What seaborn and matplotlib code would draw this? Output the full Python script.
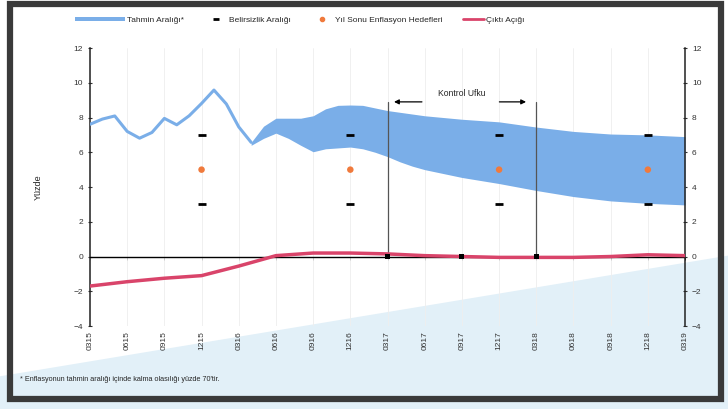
import numpy as np
import pandas as pd
import seaborn as sns
import matplotlib.pyplot as plt
from matplotlib.patches import Patch, Rectangle, Polygon
from matplotlib.lines import Line2D
from matplotlib.legend_handler import HandlerPatch

# x axis: month index, 0 = March 2015
quarter_labels = ["0315", "0615", "0915", "1215", "0316", "0616", "0916", "1216",
                  "0317", "0617", "0917", "1217", "0318", "0618", "0918", "1218", "0319"]
quarter_months = list(range(0, 49, 3))

# realised inflation (monthly)
infl_months = list(range(0, 14))
infl_values = [7.61, 7.91, 8.09, 7.20, 6.81, 7.14, 7.95, 7.58, 8.10, 8.81, 9.58, 8.78, 7.46, 6.57]

# forecast range
band_months = [13, 14, 15, 16, 17, 18, 19, 20, 21, 22, 23, 24, 25, 26, 27, 30, 33, 36, 39, 42, 45, 48]
band_lower = [6.4, 6.8, 7.1, 6.8, 6.4, 6.03, 6.2, 6.25, 6.3, 6.2, 6.0, 5.75, 5.45, 5.2, 5.0,
              4.55, 4.2, 3.8, 3.45, 3.2, 3.06, 2.97]
band_upper = [6.57, 7.5, 7.96, 7.96, 7.96, 8.1, 8.5, 8.7, 8.72, 8.7, 8.55, 8.4, 8.3, 8.2, 8.1,
              7.9, 7.75, 7.45, 7.2, 7.05, 7.0, 6.9]

# output gap (quarterly)
gap_values = [-1.7, -1.45, -1.25, -1.1, -0.55, 0.05, 0.2, 0.2, 0.15, 0.05, 0.0, -0.05,
              -0.05, -0.05, 0.0, 0.1, 0.05]

# year end targets and uncertainty band
target_months = [9, 21, 33, 45]
target_values = [5, 5, 5, 5]
unc_low = [3, 3, 3, 3]
unc_high = [7, 7, 7, 7]

# control horizon
horizon_start, horizon_end = 24, 36
horizon_marks = [24, 30, 36]

blue = "#7aaee8"
red = "#d9446a"
orange = "#f07a3c"

sns.set_style("white")
plt.rcParams["font.family"] = ["Liberation Sans", "DejaVu Sans"]

fig = plt.figure(figsize=(7.28, 4.09), dpi=100)

# scan background decoration + frame
fig.patches.append(Polygon([[0, 0], [0, 0.08], [1, 0.375], [1, 0]], closed=True,
                           transform=fig.transFigure, facecolor="#e2f0f8", edgecolor="none", zorder=0))
fig.patches.append(Rectangle((0.014, 0.025), 0.976, 0.965, transform=fig.transFigure,
                             fill=False, edgecolor="#3a3a3a", linewidth=4.5, zorder=5))

ax = fig.add_axes([0.1236, 0.2029, 0.8174, 0.6797])
ax.set_zorder(1)
ax.patch.set_visible(False)

ax.fill_between(band_months, band_lower, band_upper, color=blue, linewidth=0, zorder=2)

infl = pd.DataFrame({"month": infl_months, "value": infl_values})
sns.lineplot(data=infl, x="month", y="value", color=blue, linewidth=2.2, ax=ax, zorder=3)

gap = pd.DataFrame({"month": quarter_months, "value": gap_values})
sns.lineplot(data=gap, x="month", y="value", color=red, linewidth=2.5, ax=ax, zorder=4)

ax.axhline(0, color="black", linewidth=1.0, zorder=3)

for yv in (unc_low, unc_high):
    sns.scatterplot(x=target_months, y=yv, marker="_", s=30, color="black", linewidth=2, ax=ax, zorder=5)
sns.scatterplot(x=target_months, y=target_values, marker="o", s=22, color=orange, edgecolor="none", ax=ax, zorder=5)

sns.scatterplot(x=horizon_marks, y=[0] * len(horizon_marks), marker="s", s=14, color="black",
                edgecolor="none", ax=ax, zorder=6)

# control horizon lines and arrows
for xm in (horizon_start, horizon_end):
    ax.plot([xm, xm], [0, 8.9], color="#555555", linewidth=0.9, zorder=3)
ax.annotate("", xy=(horizon_start + 0.3, 8.9), xytext=(horizon_start + 3.0, 8.9),
            arrowprops=dict(arrowstyle="-|>", color="black", lw=0.9, mutation_scale=7))
ax.annotate("", xy=(horizon_end - 0.6, 8.9), xytext=(horizon_end - 3.2, 8.9),
            arrowprops=dict(arrowstyle="-|>", color="black", lw=0.9, mutation_scale=7))
ax.text((horizon_start + horizon_end) / 2, 9.4, "Kontrol Ufku", ha="center", va="center", fontsize=6.2)

# axes
ax.set_xlim(0, 48)
ax.set_ylim(-4, 12)
ax.set_yticks(range(-4, 13, 2))
ax.set_xticks(quarter_months)
ax.set_xticklabels(quarter_labels, rotation=90, fontsize=6, color="#333333")
ax.tick_params(axis="x", length=0, pad=4)
ax.tick_params(axis="y", labelsize=6, length=3, width=0.8, direction="inout",
               left=True, right=True, labelleft=True, labelright=True, colors="#333333")
ax.xaxis.grid(True, color="#eeeeee", linewidth=0.6)
ax.set_xlabel("")
ax.set_ylabel("Yüzde", fontsize=6.5, labelpad=22)
for s in ("top", "bottom"):
    ax.spines[s].set_visible(False)
for s in ("left", "right"):
    ax.spines[s].set_color("#222222")
    ax.spines[s].set_linewidth(1.1)

# small ticks along the zero line
zero_axis = ax.secondary_xaxis(0.25)
zero_axis.set_xticks(quarter_months)
zero_axis.tick_params(length=2.5, width=0.7, labelbottom=False, direction="out")
zero_axis.spines["bottom"].set_visible(False)


def wide_patch(legend, orig_handle, xdescent, ydescent, width, height, fontsize):
    # forecast-range swatch is drawn longer than the other handles
    return Rectangle((-xdescent - 21, -ydescent + height * 0.15), width + 21, height * 0.7)


band_handle = Patch(facecolor=blue, edgecolor="none")
handles = [
    band_handle,
    Line2D([], [], marker="_", color="black", linestyle="none", markersize=5, markeredgewidth=2),
    Line2D([], [], marker="o", color=orange, linestyle="none", markersize=3),
    Line2D([], [], color=red, linewidth=2),
]
labels = ["Tahmin Aralığı*", "Belirsizlik Aralığı", "Yıl Sonu Enflasyon Hedefleri", "Çıktı Açığı"]
fig.legend(handles, labels, loc="center left", bbox_to_anchor=(0.1429, 0.95), ncol=4, frameon=False,
           fontsize=6, handlelength=2.5, columnspacing=2.5, handletextpad=0.3,
           borderpad=0, borderaxespad=0,
           handler_map={band_handle: HandlerPatch(patch_func=wide_patch)})

fig.text(0.028, 0.068, "* Enflasyonun tahmin aralığı içinde kalma olasılığı yüzde 70'tir.", fontsize=5.2)

fig.savefig("out.png", dpi=100)
